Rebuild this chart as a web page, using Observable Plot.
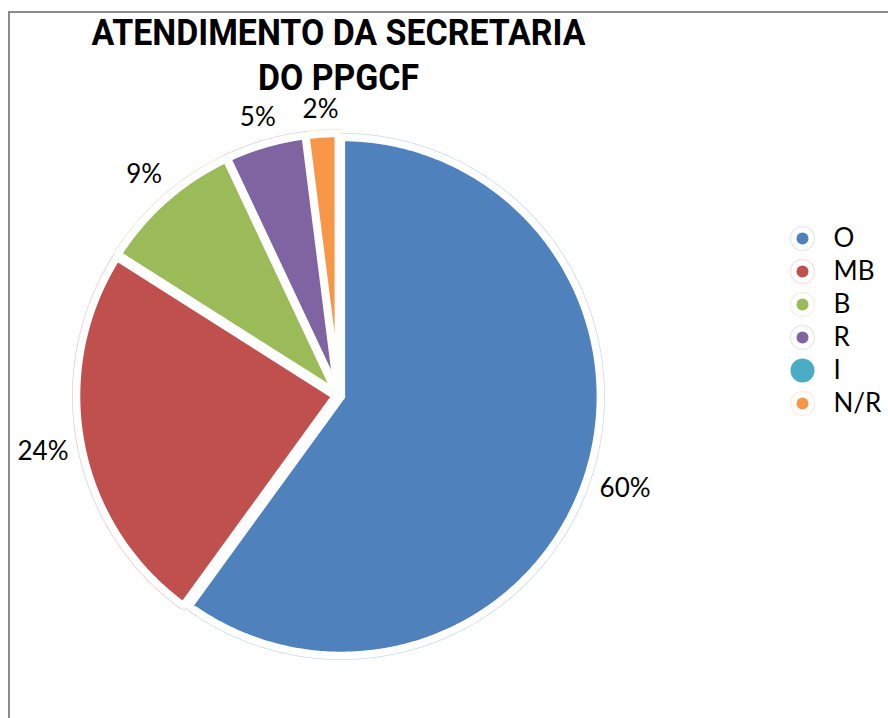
<!DOCTYPE html>
<html><head><meta charset="utf-8">
<script src="https://cdn.jsdelivr.net/npm/d3@7"></script>
<script src="https://cdn.jsdelivr.net/npm/@observablehq/plot@0.6"></script>
<style>
html,body{margin:0;padding:0;background:#fff;}
#chart{position:relative;width:888px;height:718px;overflow:hidden;}
#frame{position:absolute;left:8px;top:11px;width:900px;height:800px;border-left:2px solid #8c8c8c;border-top:2px solid #8c8c8c;pointer-events:none;}
</style>
</head><body><div id="chart"><div id="frame"></div></div>
<script>
const categories = ["O", "MB", "B", "R", "I", "N/R"];
const values = [60, 24, 9, 5, 0, 2];
const colors = ["#4F81BD", "#C0504D", "#9BBB59", "#8064A2", "#4BACC6", "#F79646"];
const titleLines = ["ATENDIMENTO DA SECRETARIA", "DO PPGCF"];

// layout
const W = 888, H = 718, cx = 338, cy = 395, R = 259;
const X = px => (px - cx) / R, Y = py => (cy - py) / R;
const explode = 3 / R;
const labelGap = 16, labelFont = 26;

const table = categories.map((c, i) => ({cat: c, value: values[i]}));
const arcs = d3.pie().sort(null).value(d => d.value)(table);

const pts = [];
arcs.forEach(a => {
  if (a.endAngle - a.startAngle <= 0) return;
  const mid = (a.startAngle + a.endAngle) / 2;
  const ox = explode * Math.sin(mid), oy = explode * Math.cos(mid);
  pts.push({cat: a.data.cat, x: ox, y: oy});
  const n = Math.max(2, Math.ceil((a.endAngle - a.startAngle) / 0.01));
  for (let k = 0; k <= n; k++) {
    const t = a.startAngle + (a.endAngle - a.startAngle) * k / n;
    pts.push({cat: a.data.cat, x: ox + Math.sin(t), y: oy + Math.cos(t)});
  }
  pts.push({cat: a.data.cat, x: ox, y: oy});
});

// outside-end labels: box edge sits labelGap px beyond the rim
const labels = arcs.filter(a => a.data.value > 0).map(a => {
  const mid = (a.startAngle + a.endAngle) / 2;
  const s = Math.sin(mid), c = Math.cos(mid);
  const txt = a.data.value + "%";
  const hw = (txt.length - 1) * 0.27 * labelFont + 0.4 * labelFont, hh = 0.38 * labelFont;
  const d = (R + labelGap + hw * Math.abs(s) + hh * Math.abs(c)) / R;
  return {text: txt, x: d * s, y: d * c};
});

const legendX = 802, legendTop = 238, legendStep = 33;

const plot = Plot.plot({
  width: W, height: H, margin: 0,
  x: {domain: [X(0), X(W)], range: [0, W], axis: null},
  y: {domain: [Y(H), Y(0)], range: [H, 0], axis: null},
  color: {domain: categories, range: colors},
  r: {type: "identity"},
  style: {background: "transparent"},
  marks: [
    Plot.line(pts, {x: "x", y: "y", z: "cat", stroke: "cat", strokeWidth: 9, strokeOpacity: 0.3, fill: "none"}),
    Plot.line(pts, {x: "x", y: "y", z: "cat", fill: "cat", stroke: "white", strokeWidth: 7.5}),
    Plot.text(labels, {x: "x", y: "y", text: "text", fontSize: labelFont, fontFamily: "Lato", fill: "black", textAnchor: "middle", lineAnchor: "middle"}),
    Plot.text(titleLines, {x: () => 0, y: (d, i) => Y([44, 89][i]), text: d => d, fontSize: 36, fontWeight: "bold", fontFamily: "Roboto", fill: "black", lineAnchor: "bottom"}),
    Plot.dot(categories.filter(c => c !== "I"), {x: () => X(legendX), y: d => Y(legendTop + categories.indexOf(d) * legendStep), r: 12, stroke: d => d, strokeOpacity: 0.15, fill: "white"}),
    Plot.dot(categories, {x: () => X(legendX), y: d => Y(legendTop + categories.indexOf(d) * legendStep), r: d => d === "I" ? 12 : 6, fill: d => d}),
    Plot.text(categories, {x: () => X(legendX + 31), y: d => Y(legendTop + categories.indexOf(d) * legendStep), text: d => d, fontSize: 26, fontFamily: "Lato", fill: "black", textAnchor: "start", lineAnchor: "middle"})
  ]
});
document.getElementById("chart").prepend(plot);
const tl = {"ATENDIMENTO DA SECRETARIA": 494, "DO PPGCF": 161};
d3.select(plot).selectAll("text").each(function() {
  const t = this.textContent.trim();
  if (tl[t]) this.setAttribute("textLength", tl[t]), this.setAttribute("lengthAdjust", "spacingAndGlyphs");
});
</script>
</body></html>
